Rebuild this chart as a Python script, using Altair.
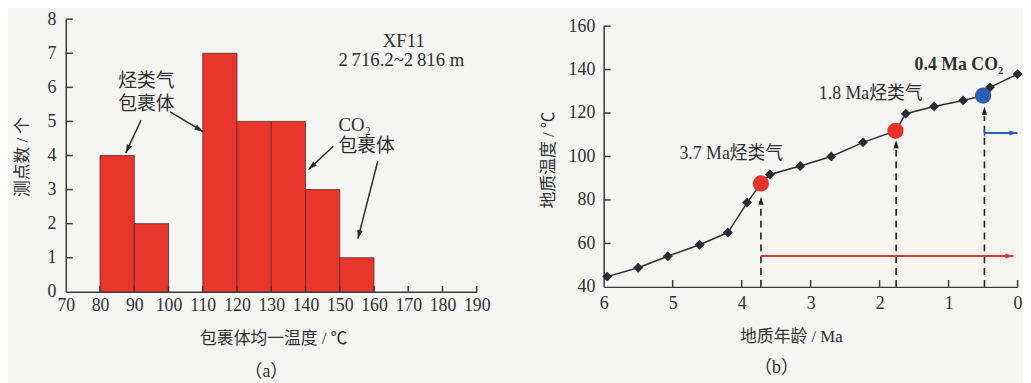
import math
import altair as alt
import pandas as pd

# ---------------- panel (a): histogram ----------------
bin_start = [80, 90, 110, 120, 130, 140, 150]
bin_end = [90, 100, 120, 130, 140, 150, 160]
counts = [4, 2, 7, 5, 5, 3, 1]
a_x_ticks = [70, 80, 90, 100, 110, 120, 130, 140, 150, 160, 170, 180, 190]
a_y_ticks = [0, 1, 2, 3, 4, 5, 6, 7, 8]

a_note_text = ["XF11", "2\u2009716.2~2\u2009816 m"]
a_note_x = [168.7, 168.0]
a_note_y = [7.37, 6.80]
hc_text = ["烃类气", "包裹体"]
hc_text_x = [93.5, 93.5]
hc_text_y = [6.18, 5.52]
co2_text = ["CO₂", "包裹体"]
co2_text_x = [149.6, 149.6]
co2_text_y = [4.90, 4.29]
a_arrow_x1 = [92.0, 100.5, 148.1, 161.1]
a_arrow_y1 = [5.04, 5.28, 4.27, 3.83]
a_arrow_x2 = [87.5, 110.1, 140.9, 155.3]
a_arrow_y2 = [4.07, 4.70, 3.59, 1.56]
a_caption = ["（a）"]

# ---------------- panel (b): burial temperature ----------------
b_age = [5.95, 5.50, 5.07, 4.61, 4.20, 3.92, 3.72, 3.59, 3.15, 2.70, 2.24,
         1.77, 1.62, 1.21, 0.79, 0.50, 0.40, 0.0]
b_temp = [44.7, 48.8, 54.1, 59.4, 65.0, 78.8, 87.6, 91.7, 95.6, 100.0, 106.5,
          111.8, 119.7, 123.0, 125.8, 128.0, 131.8, 137.9]
b_kind = ["n", "n", "n", "n", "n", "n", "hc", "n", "n", "n", "n",
          "hc", "n", "n", "n", "co2", "n", "n"]
b_x_ticks = [0, 1, 2, 3, 4, 5, 6]
b_y_ticks = [40, 60, 80, 100, 120, 140, 160]

ev_age = [3.72, 1.76, 0.48]
ev_tip = [81.5, 107.5, 123.0]
ev_label = ["3.7 Ma烃类气", "1.8 Ma烃类气", "0.4 Ma CO₂"]
ev_label_age = [4.15, 2.13, 0.85]
ev_label_temp = [100.9, 128.5, 142.2]
ev_bold = [False, False, True]

range_start = [3.72, 0.48]
range_end = [0.06, 0.0]
range_temp = [54.2, 110.8]
range_kind = ["hc", "co2"]
b_caption = ["（b）"]

# ---------------- styling ----------------
FONT = "Liberation Serif, Noto Sans CJK SC"
TXT = "#303030"
AX = "#3a3a3a"
RED = "#e8352b"
BLUE = "#2f5fb3"
ARROW = "M0,0L0.7,2.2L-0.7,2.2Z"

AW, AH = 416, 276
BW, BH = 419, 271

a_xs = alt.Scale(domain=[70, 190], nice=False, zero=False)
a_ys = alt.Scale(domain=[0, 8], nice=False, zero=False)
b_xs = alt.Scale(domain=[0, 6], reverse=True, nice=False, zero=False)
b_ys = alt.Scale(domain=[40, 160], range=[BH, 7], nice=False, zero=False)

common = dict(labelOverlap=False, labelFlush=False)
a_xaxis = alt.Axis(values=a_x_ticks, title="包裹体均一温度 / ℃", labelPadding=5,
                   titleX=210, titleY=47, titleBaseline="middle", titleAlign="center", **common)
a_yaxis = alt.Axis(values=a_y_ticks, title="测点数 / 个", labelPadding=10,
                   titleX=-44, titleY=139, titleBaseline="middle", titleAlign="center", titleAngle=270,
                   **common)
b_xaxis = alt.Axis(values=b_x_ticks, title="地质年龄 / Ma", labelPadding=8,
                   titleX=189.5, titleY=50, titleBaseline="middle", titleAlign="center", **common)
b_yaxis = alt.Axis(values=b_y_ticks, title="地质温度 / ℃", labelPadding=9,
                   titleX=-56, titleY=142, titleBaseline="middle", titleAlign="center", titleAngle=270,
                   **common)


def AX_(f):
    return alt.X(f, scale=a_xs, axis=a_xaxis)


def AY_(f):
    return alt.Y(f, scale=a_ys, axis=a_yaxis)


def BX_(f):
    return alt.X(f, scale=b_xs, axis=b_xaxis)


def BY_(f):
    return alt.Y(f, scale=b_ys, axis=b_yaxis)


def head_angle(x1, y1, x2, y2, sx, sy):
    return math.degrees(math.atan2((x2 - x1) * sx, (y2 - y1) * sy)) % 360


# ---- panel (a) layers ----
bars_df = pd.DataFrame({"x0": bin_start, "x1": bin_end, "n": counts, "b": [0] * len(counts)})
bars = alt.Chart(bars_df).mark_rect(fill=RED, stroke="#5a2a2a", strokeWidth=0.8).encode(
    x=AX_("x0:Q"), x2="x1:Q", y=AY_("n:Q"), y2="b:Q")

a_xt = alt.Chart(pd.DataFrame({"v": a_x_ticks[1:]})).mark_rule(color=AX, strokeWidth=1.5).encode(
    x=AX_("v:Q"), y=alt.value(AH), y2=alt.value(AH - 6))
a_yt = alt.Chart(pd.DataFrame({"v": a_y_ticks[1:]})).mark_rule(color=AX, strokeWidth=1.5).encode(
    y=AY_("v:Q"), x=alt.value(0), x2=alt.value(7))

a_notes = alt.Chart(pd.DataFrame({"t": a_note_text, "x": a_note_x, "y": a_note_y})).mark_text(
    font=FONT, fontSize=19, color=TXT, align="center", baseline="middle").encode(
    x=AX_("x:Q"), y=AY_("y:Q"), text="t:N")
hc_notes = alt.Chart(pd.DataFrame({"t": hc_text, "x": hc_text_x, "y": hc_text_y})).mark_text(
    font=FONT, fontSize=19, color=TXT, align="center", baseline="middle").encode(
    x=AX_("x:Q"), y=AY_("y:Q"), text="t:N")
co2_notes = alt.Chart(pd.DataFrame({"t": co2_text, "x": co2_text_x, "y": co2_text_y})).mark_text(
    font=FONT, fontSize=19, color=TXT, align="left", baseline="middle").encode(
    x=AX_("x:Q"), y=AY_("y:Q"), text="t:N")

a_arr_df = pd.DataFrame({"x1": a_arrow_x1, "y1": a_arrow_y1, "x2": a_arrow_x2, "y2": a_arrow_y2})
a_arr_df["ang"] = [head_angle(r.x1, r.y1, r.x2, r.y2, AW / 120, AH / 8) for r in a_arr_df.itertuples()]
a_shafts = alt.Chart(a_arr_df).mark_rule(color="#2a2a2a", strokeWidth=1.5).encode(
    x=AX_("x1:Q"), y=AY_("y1:Q"), x2="x2:Q", y2="y2:Q")
a_heads = alt.Chart(a_arr_df).mark_point(shape=ARROW, filled=True, size=64, color="#2a2a2a", opacity=1).encode(
    x=AX_("x2:Q"), y=AY_("y2:Q"), angle=alt.Angle("ang:Q", scale=None))

a_cap = alt.Chart(pd.DataFrame({"t": a_caption})).mark_text(
    font=FONT, fontSize=18, color=TXT, align="center", baseline="middle").encode(
    text="t:N", x=alt.value(203), y=alt.value(357))

panel_a = alt.layer(bars, a_xt, a_yt, a_shafts, a_heads, a_notes, hc_notes, co2_notes, a_cap).properties(
    width=AW, height=AH)

# ---- panel (b) layers ----
pts_df = pd.DataFrame({"age": b_age, "temp": b_temp, "kind": b_kind})
line = alt.Chart(pts_df).mark_line(color="#2e2e2e", strokeWidth=1.5).encode(
    x=BX_("age:Q"), y=BY_("temp:Q"))
diam = alt.Chart(pts_df).transform_filter(alt.datum.kind == "n").mark_point(
    shape="diamond", filled=True, size=100, color="#2b2b33", opacity=1).encode(
    x=BX_("age:Q"), y=BY_("temp:Q"))
dots = alt.Chart(pts_df).transform_filter(alt.datum.kind != "n").mark_circle(size=270, opacity=1).encode(
    x=BX_("age:Q"), y=BY_("temp:Q"),
    color=alt.Color("kind:N", scale=alt.Scale(domain=["hc", "co2"], range=[RED, BLUE]), legend=None))

b_xt = alt.Chart(pd.DataFrame({"v": b_x_ticks[:-1]})).mark_rule(color=AX, strokeWidth=1.5).encode(
    x=BX_("v:Q"), y=alt.value(BH), y2=alt.value(BH - 7))
b_yt = alt.Chart(pd.DataFrame({"v": b_y_ticks[1:]})).mark_rule(color=AX, strokeWidth=1.5).encode(
    y=BY_("v:Q"), x=alt.value(0), x2=alt.value(7))

ev_df = pd.DataFrame({"age": ev_age, "tip": ev_tip, "base": [40] * 3, "ang": [0] * 3,
                      "lab": ev_label, "la": ev_label_age, "lt": ev_label_temp, "bold": ev_bold})
ev_df["shaft_top"] = ev_df["tip"] - 4.5
dashes = alt.Chart(ev_df).mark_rule(color="#1e1e1e", strokeWidth=1.6, strokeDash=[7, 5]).encode(
    x=BX_("age:Q"), y=BY_("base:Q"), y2="shaft_top:Q")
ev_heads = alt.Chart(ev_df).mark_point(shape=ARROW, filled=True, size=56, color="#1e1e1e", opacity=1).encode(
    x=BX_("age:Q"), y=BY_("tip:Q"), angle=alt.Angle("ang:Q", scale=None))
ev_text = alt.Chart(ev_df).transform_filter(~alt.datum.bold).mark_text(
    font=FONT, fontSize=18, color=TXT, align="center", baseline="middle").encode(
    x=BX_("la:Q"), y=BY_("lt:Q"), text="lab:N")
ev_text_b = alt.Chart(ev_df).transform_filter(alt.datum.bold).mark_text(
    font=FONT, fontSize=18, fontWeight="bold", color=TXT, align="center", baseline="middle").encode(
    x=BX_("la:Q"), y=BY_("lt:Q"), text="lab:N")

rg_df = pd.DataFrame({"a0": range_start, "a1": range_end, "t": range_temp, "kind": range_kind,
                      "ang": [90, 90]})
rg_df["t_lo"] = rg_df["t"] - 1.6
rg_df["t_hi"] = rg_df["t"] + 1.6
rg_color = alt.Color("kind:N", scale=alt.Scale(domain=["hc", "co2"], range=[RED, BLUE]), legend=None)
rg_line = alt.Chart(rg_df).mark_rule(strokeWidth=2).encode(
    x=BX_("a0:Q"), x2="a1:Q", y=BY_("t:Q"), color=rg_color)
rg_heads = alt.Chart(rg_df).mark_point(shape=ARROW, filled=True, size=56, opacity=1).encode(
    x=BX_("a1:Q"), y=BY_("t:Q"), angle=alt.Angle("ang:Q", scale=None), color=rg_color)
rg_bar = alt.Chart(rg_df).transform_filter(alt.datum.kind == "co2").mark_rule(strokeWidth=1.5).encode(
    x=BX_("a0:Q"), y=BY_("t_lo:Q"), y2="t_hi:Q", color=rg_color)

b_cap = alt.Chart(pd.DataFrame({"t": b_caption})).mark_text(
    font=FONT, fontSize=18, color=TXT, align="center", baseline="middle").encode(
    text="t:N", x=alt.value(175), y=alt.value(353.5))

panel_b = alt.layer(b_xt, b_yt, dashes, ev_heads, rg_line, rg_bar, rg_heads, line, diam, dots,
                    ev_text, ev_text_b, b_cap).properties(width=BW, height=BH)

chart = alt.hconcat(panel_a, panel_b, spacing=128.5, bounds="flush").properties(
    padding={"left": 5.5, "top": 0, "right": 0, "bottom": 0},
    background="#f5f5f3",
).configure_view(stroke=None).configure_axis(
    labelFont=FONT, labelFontSize=18, labelColor=TXT,
    titleFont=FONT, titleFontSize=17, titleColor=TXT, titleFontWeight="normal",
    domainColor=AX, domainWidth=1.5, grid=False, ticks=False, tickSize=0,
)

chart.save("out.html", embed_options={"renderer": "svg", "actions": False})
